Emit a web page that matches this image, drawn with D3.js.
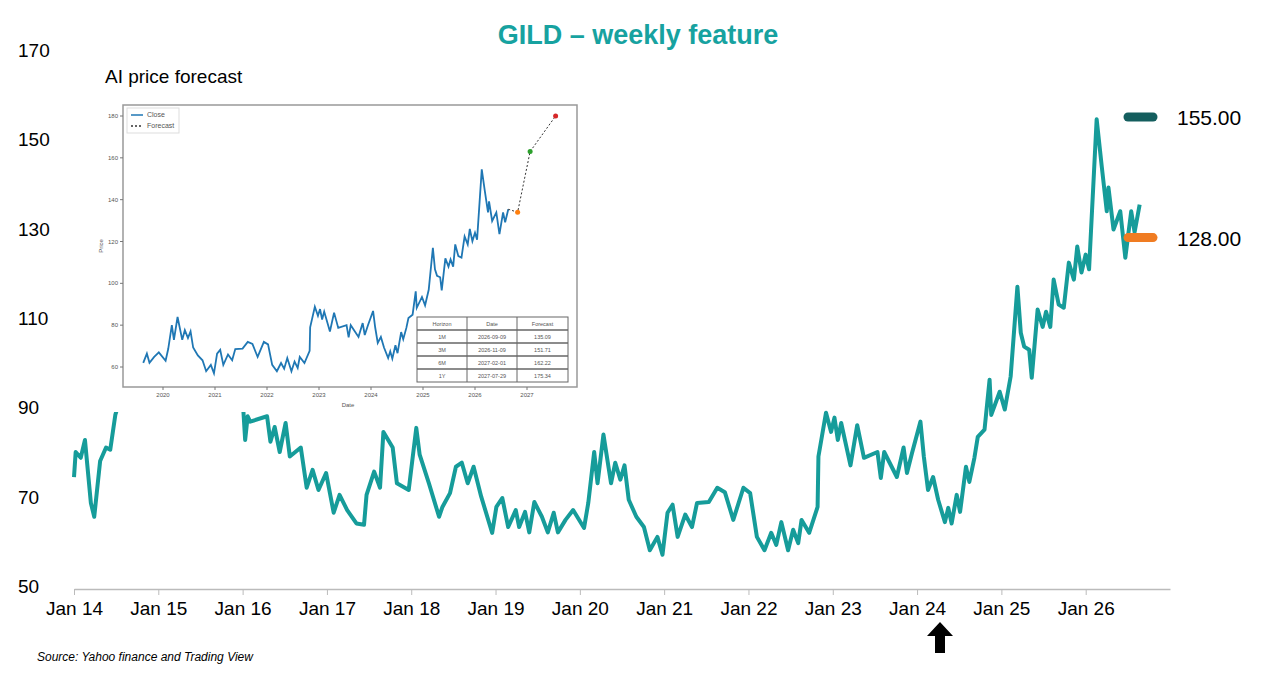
<!DOCTYPE html>
<html><head><meta charset="utf-8">
<script src="https://cdn.jsdelivr.net/npm/d3@7"></script>
<style>body{margin:0;background:#fff;font-family:"Liberation Sans",Arial,sans-serif}</style>
</head><body><svg id="c" width="1267" height="681"></svg>
<script>
const yearTicks=[2014,2015,2016,2017,2018,2019,2020,2021,2022,2023,2024,2025,2026];
const yearLabels=["Jan 14","Jan 15","Jan 16","Jan 17","Jan 18","Jan 19","Jan 20","Jan 21","Jan 22","Jan 23","Jan 24","Jan 25","Jan 26"];
const yTicks=[50,70,90,110,130,150,170];
const dates=[2014.00,2014.02,2014.08,2014.13,2014.20,2014.24,2014.31,2014.38,2014.43,2014.49,2014.6,2014.75,2014.9,2015.1,2015.3,2015.5,2015.7,2015.85,2016.00,2016.03,2016.06,2016.09,2016.29,2016.33,2016.38,2016.44,2016.51,2016.56,2016.69,2016.76,2016.83,2016.90,2016.99,2017.08,2017.15,2017.24,2017.35,2017.44,2017.47,2017.56,2017.63,2017.67,2017.78,2017.83,2017.97,2018.06,2018.10,2018.21,2018.33,2018.37,2018.46,2018.53,2018.60,2018.67,2018.74,2018.83,2018.96,2019.01,2019.08,2019.15,2019.24,2019.28,2019.35,2019.40,2019.46,2019.55,2019.62,2019.69,2019.74,2019.83,2019.92,2020.05,2020.10,2020.17,2020.21,2020.28,2020.37,2020.42,2020.48,2020.53,2020.58,2020.67,2020.76,2020.83,2020.92,2020.98,2021.04,2021.10,2021.16,2021.25,2021.33,2021.39,2021.53,2021.63,2021.72,2021.82,2021.94,2022.02,2022.10,2022.19,2022.27,2022.33,2022.39,2022.47,2022.53,2022.59,2022.63,2022.72,2022.82,2022.83,2022.92,2022.98,2023.02,2023.06,2023.10,2023.21,2023.29,2023.37,2023.53,2023.57,2023.61,2023.76,2023.84,2023.88,2023.94,2024.04,2024.08,2024.13,2024.19,2024.25,2024.33,2024.37,2024.41,2024.47,2024.51,2024.58,2024.62,2024.68,2024.72,2024.80,2024.86,2024.88,2024.98,2025.04,2025.11,2025.19,2025.23,2025.27,2025.33,2025.36,2025.43,2025.49,2025.53,2025.58,2025.62,2025.68,2025.74,2025.80,2025.86,2025.90,2025.95,2026.00,2026.04,2026.13,2026.19,2026.25,2026.27,2026.33,2026.41,2026.47,2026.54,2026.58,2026.64];
const prices=[74.4,80,78.7,82.7,68.6,65.5,78,81,80.5,88.3,95,105,100,105,110,118,100,95,92,82.7,88,86.8,88,82.3,85.6,80,86.5,79,81,72,76,71.5,75.3,66.4,70.4,67,64,63.7,70.4,75.6,72,84.5,81,73,71.5,85.4,79.4,73,65.5,67.7,70.8,76.7,77.6,73,76.7,70,61.9,67.7,69.7,63.2,67,63.2,66.6,62,68.8,65.5,62,66.4,62,64.8,67,63,68.6,80,73,83.9,73,77.6,73.8,77,69.3,65.5,63.2,58,61,57,66.4,68.2,61,66,63.2,68.6,68.8,72,71,64.8,72,70.8,61,58,61.9,59.2,64.3,58,62.6,59.6,64.8,61.9,67.7,79,88.8,84.5,87.7,82.7,86.5,77,86,78.7,80,74.2,80,74.4,81,75.3,79.8,86.8,79,71.5,74.4,69.3,64.3,67.5,64,70.4,66.6,76.7,73.3,78.7,83.4,85,96.2,88.3,93.5,89.5,96.9,117,106.7,103.6,102.9,96.6,111.9,108,111.4,108,118.6,113,112.3,122.4,118.6,126,120.2,124.2,120.9,154.5,144,133.9,139.2,129.8,133.9,123.5,133.9,129.2,135.4];
const markerValues=[155.00,128.00];
const insetYTicks=[60,80,100,120,140,160,180];
const insetXTicks=[2020,2021,2022,2023,2024,2025,2026,2027];
const fcDates=[2026.64,2026.82,2027.06,2027.55];
const fcValues=[135.4,134,163,180];
const tableHead=["Horizon","Date","Forecast"];
const tableRows=[["1M","2026-09-09","135.09"],["3M","2026-11-09","151.71"],["6M","2027-02-01","162.22"],["1Y","2027-07-29","175.34"]];

const svg=d3.select("#c");
const x=d3.scaleLinear().domain([2014,2027]).range([74,1170]);
const y=d3.scaleLinear().domain([50,170]).range([586,50]);
const data=dates.map((d,i)=>[d,prices[i]]);

svg.append("text").attr("x",638).attr("y",44).attr("text-anchor","middle").attr("fill","#17a2a0")
 .attr("font-size",27).attr("font-weight","bold").text("GILD – weekly feature");

const ya=svg.append("g");
yTicks.forEach(t=>ya.append("text").attr("x",18).attr("y",y(t)+7).attr("font-size",19).attr("fill","#000").text(t));

const xa=svg.append("g").attr("transform","translate(0,589)")
 .call(d3.axisBottom(x).tickValues(yearTicks).tickFormat((d,i)=>yearLabels[i]).tickSize(6).tickSizeOuter(0));
xa.select(".domain").attr("stroke","#bbb").attr("stroke-width",1.5);
xa.selectAll(".tick line").attr("stroke","#bbb");
xa.selectAll("text").attr("font-size",19).attr("fill","#000").attr("font-family","Liberation Sans, Arial").attr("y",10).attr("dy","0.85em");

svg.append("path").datum(data).attr("fill","none").attr("stroke","#169c9a").attr("stroke-width",4)
 .attr("stroke-linejoin","round").attr("d",d3.line().x(d=>x(d[0])).y(d=>y(d[1])));

const mc=["#145e5e","#f07c22"];
markerValues.forEach((v,i)=>{
 svg.append("line").attr("x1",1128).attr("x2",1153).attr("y1",y(v)).attr("y2",y(v)).attr("stroke",mc[i]).attr("stroke-width",9).attr("stroke-linecap","round");
 svg.append("text").attr("x",1177).attr("y",y(v)+8).attr("font-size",21).text(v.toFixed(2));
});

svg.append("text").attr("x",105).attr("y",83).attr("font-size",19).text("AI price forecast");

// inset
const ins=svg.append("g");
ins.append("rect").attr("x",95).attr("y",100).attr("width",490).attr("height",312).attr("fill","#fff");
const ix=d3.scaleLinear().domain([2020,2027]).range([163,527]);
const iy=d3.scaleLinear().domain([60,180]).range([367,116]);
ins.append("rect").attr("x",123).attr("y",105).attr("width",454).attr("height",282).attr("fill","none").attr("stroke","#999").attr("stroke-width",1.5);
insetYTicks.forEach(t=>{ins.append("text").attr("x",118).attr("y",iy(t)+2).attr("text-anchor","end").attr("font-size",6).attr("fill","#555").text(t);
 ins.append("line").attr("x1",120).attr("x2",123).attr("y1",iy(t)).attr("y2",iy(t)).attr("stroke","#777");});
insetXTicks.forEach(t=>{ins.append("text").attr("x",ix(t)).attr("y",397).attr("text-anchor","middle").attr("font-size",6).attr("fill","#555").text(t);
 ins.append("line").attr("x1",ix(t)).attr("x2",ix(t)).attr("y1",387).attr("y2",390).attr("stroke","#777");});
ins.append("text").attr("x",348).attr("y",407).attr("text-anchor","middle").attr("font-size",6).attr("fill","#555").text("Date");
ins.append("text").attr("transform","translate(103,246) rotate(-90)").attr("text-anchor","middle").attr("font-size",6).attr("fill","#555").text("Price");
const idata=data.filter(d=>d[0]>=2019.6);
ins.append("path").datum(idata).attr("fill","none").attr("stroke","#1f77b4").attr("stroke-width",1.8)
 .attr("d",d3.line().x(d=>ix(d[0])).y(d=>iy(d[1])));
const fd=fcDates.map((d,i)=>[d,fcValues[i]]);
ins.append("path").datum(fd).attr("fill","none").attr("stroke","#333").attr("stroke-width",1).attr("stroke-dasharray","2,2")
 .attr("d",d3.line().x(d=>ix(d[0])).y(d=>iy(d[1])));
const fcc=["#ff7f0e","#2ca02c","#d62728"];
fd.slice(1).forEach((d,i)=>ins.append("circle").attr("cx",ix(d[0])).attr("cy",iy(d[1])).attr("r",2.5).attr("fill",fcc[i]));
// legend
ins.append("rect").attr("x",127).attr("y",108).attr("width",52).attr("height",25).attr("fill","#fff").attr("stroke","#ddd");
ins.append("line").attr("x1",131).attr("x2",143).attr("y1",115).attr("y2",115).attr("stroke","#1f77b4").attr("stroke-width",1.5);
ins.append("line").attr("x1",131).attr("x2",143).attr("y1",126).attr("y2",126).attr("stroke","#333").attr("stroke-width",1.5).attr("stroke-dasharray","2,2");
ins.append("text").attr("x",147).attr("y",117).attr("font-size",7).attr("fill","#555").text("Close");
ins.append("text").attr("x",147).attr("y",128).attr("font-size",7).attr("fill","#555").text("Forecast");
// table
const tx=[417,467,517,568], ty0=317, rh=13;
ins.append("rect").attr("x",417).attr("y",ty0).attr("width",151).attr("height",rh*5).attr("fill","#fff").attr("stroke","#666");
for(let r=1;r<5;r++) ins.append("line").attr("x1",417).attr("x2",568).attr("y1",ty0+r*rh).attr("y2",ty0+r*rh).attr("stroke","#666").attr("stroke-width",1.5);
[467,517].forEach(cx=>ins.append("line").attr("x1",cx).attr("x2",cx).attr("y1",ty0).attr("y2",ty0+rh*5).attr("stroke","#666"));
[tableHead,...tableRows].forEach((row,r)=>row.forEach((c,j)=>ins.append("text").attr("x",(tx[j]+tx[j+1])/2).attr("y",ty0+r*rh+9)
 .attr("text-anchor","middle").attr("font-size",5.5).attr("fill","#555").text(c)));

// arrow
svg.append("path").attr("d","M940,622 L953,636 L945,636 L945,653 L935,653 L935,636 L927,636 Z").attr("fill","#000");
svg.append("text").attr("x",37).attr("y",661).attr("font-size",12).attr("font-style","italic").text("Source: Yahoo finance and Trading View");
</script></body></html>
